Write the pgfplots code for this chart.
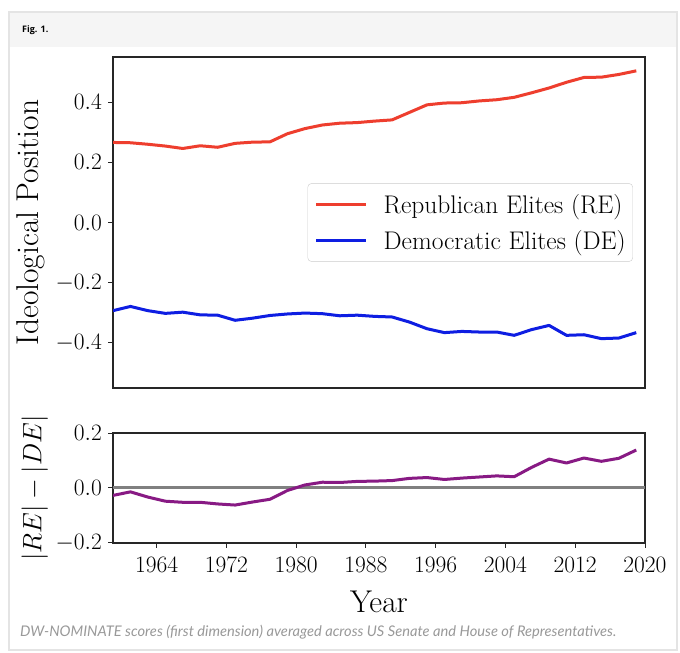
\RequirePackage{fix-cm}
\documentclass[border=0pt]{standalone}
\usepackage{fontspec}
\usepackage{graphicx}
\usepackage{pgfplots}
\usepackage{pgfplotstable}
\pgfplotsset{compat=1.18}
\newfontfamily\captionfont{Lato}
\newfontfamily\headfont{Open Sans}

\definecolor{reline}{RGB}{238,62,46}
\definecolor{deline}{RGB}{14,30,226}
\definecolor{gapline}{RGB}{136,26,132}
\definecolor{framegray}{RGB}{228,228,228}
\definecolor{headgray}{RGB}{245,245,245}

% Mean first-dimension DW-NOMINATE position by Congress (start year)
\pgfplotstableread{
year  re
1959  0.266
1961  0.265
1963  0.260
1965  0.254
1967  0.246
1969  0.255
1971  0.250
1973  0.263
1975  0.267
1977  0.268
1979  0.295
1981  0.312
1983  0.324
1985  0.330
1987  0.332
1989  0.337
1991  0.341
1993  0.366
1995  0.391
1997  0.397
1999  0.398
2001  0.404
2003  0.408
2005  0.416
2007  0.431
2009  0.447
2011  0.466
2013  0.482
2015  0.483
2017  0.492
2019  0.504
}\republican

\pgfplotstableread{
year  de
1959  -0.293
1961  -0.279
1963  -0.293
1965  -0.302
1967  -0.298
1969  -0.307
1971  -0.308
1973  -0.325
1975  -0.318
1977  -0.309
1979  -0.304
1981  -0.301
1983  -0.303
1985  -0.310
1987  -0.308
1989  -0.312
1991  -0.314
1993  -0.331
1995  -0.353
1997  -0.366
1999  -0.362
2001  -0.364
2003  -0.364
2005  -0.375
2007  -0.356
2009  -0.342
2011  -0.375
2013  -0.373
2015  -0.386
2017  -0.384
2019  -0.366
}\democratic

% |RE| - |DE|
\pgfplotstableread{
year  gap
1959  -0.027
1961  -0.014
1963  -0.033
1965  -0.048
1967  -0.052
1969  -0.052
1971  -0.058
1973  -0.062
1975  -0.051
1977  -0.041
1979  -0.009
1981  0.011
1983  0.021
1985  0.020
1987  0.024
1989  0.025
1991  0.027
1993  0.035
1995  0.038
1997  0.031
1999  0.036
2001  0.040
2003  0.044
2005  0.041
2007  0.075
2009  0.105
2011  0.091
2013  0.109
2015  0.097
2017  0.108
2019  0.138
}\gap

\pgfplotsset{
  panel/.style={
    scale only axis,
    width=532pt,
    xmin=1959, xmax=2020,
    axis line style={line width=1.1pt, black!85},
    tick style={line width=1pt, black!85},
    major tick length=5pt,
    tick align=outside,
    xtick pos=lower, ytick pos=left,
    tick label style={font=\fontsize{23.5}{28}\selectfont},
    yticklabel style={inner sep=0pt, xshift=-6pt,
      /pgf/number format/.cd, fixed, fixed zerofill, precision=1},
    xticklabel style={inner sep=0pt, yshift=-9pt,
      /pgf/number format/.cd, 1000 sep={}},
    xlabel style={font=\fontsize{31.5}{36}\selectfont},
  },
}

\begin{document}
\begin{tikzpicture}[x=1pt,y=1pt]
\useasboundingbox (0,0) rectangle (680,653);
\fill[white] (0,0) rectangle (680,653);
% card and header strip
\draw[line width=1.2pt, draw=framegray, fill=white] (9,3) rectangle (677,641);
\fill[headgray] (9.6,606) rectangle (676.4,640.4);
\node[anchor=west, inner sep=0pt, font=\headfont\bfseries\fontsize{9}{11}\selectfont] at (22,623) {Fig. 1.};

% upper panel: party positions
\begin{axis}[panel,
  at={(113pt,265pt)}, anchor=south west,
  height=331pt,
  ymin=-0.55, ymax=0.55,
  ytick={-0.4,-0.2,0,0.2,0.4},
  xtick=\empty,
  ylabel={Ideological Position},
  every axis y label/.style={at={(axis description cs:-0.155,0.5)},
    rotate=90, anchor=center, font=\fontsize{31.5}{36}\selectfont},
  legend style={at={(0.9774,0.5)}, anchor=east,
    draw=black!20, rounded corners=4pt, fill=white,
    font=\fontsize{25.5}{30}\selectfont,
    nodes={inner sep=0pt},
    inner xsep=7pt, inner ysep=11pt,
    column sep=16pt, row sep=15pt},
  legend cell align=left,
  legend image code/.code={\draw[#1, line width=3pt] (0pt,0pt) -- (50pt,0pt);},
]
\addplot[reline, line width=3pt, line join=round] table[x=year, y=re] {\republican};
\addlegendentry{Republican Elites (RE)}
\addplot[deline, line width=3pt, line join=round] table[x=year, y=de] {\democratic};
\addlegendentry{Democratic Elites (DE)}
\end{axis}

% lower panel: difference in magnitudes
\begin{axis}[panel,
  at={(113pt,110pt)}, anchor=south west,
  height=110pt,
  ymin=-0.2, ymax=0.2,
  ytick={-0.2,0,0.2},
  xtick={1964,1972,1980,1988,1996,2004,2012,2020},
  ylabel={$|RE| - |DE|$},
  every axis y label/.style={at={(axis description cs:-0.147,0.5)},
    rotate=90, anchor=center, font=\fontsize{26.5}{31}\selectfont},
  xlabel={Year},
  xlabel style={at={(axis description cs:0.5,-0.636)}, anchor=base},
]
\addplot[gray, line width=3pt] coordinates {(1959,0) (2020,0)};
\addplot[gapline, line width=3pt, line join=round] table[x=year, y=gap] {\gap};
\end{axis}

\node[anchor=west, inner sep=0pt, text=black!40] at (20,21)
  {\resizebox{596pt}{!}{\captionfont\itshape DW-NOMINATE scores (first dimension) averaged across US Senate and House of Representatives.}};
\end{tikzpicture}
\end{document}
